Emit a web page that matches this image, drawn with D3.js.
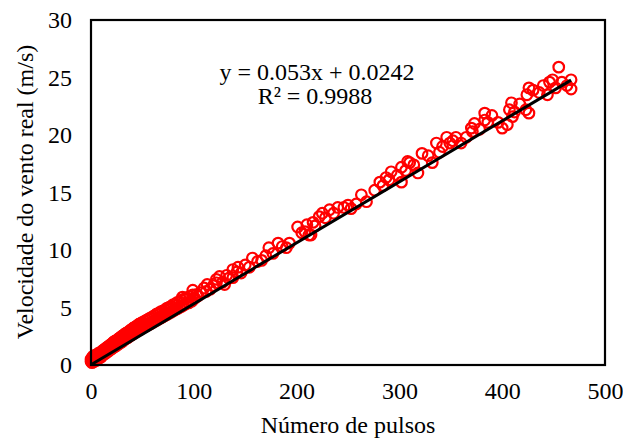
<!DOCTYPE html>
<html>
<head>
<meta charset="utf-8">
<script src="https://cdn.jsdelivr.net/npm/d3@7"></script>
<style>
  html, body { margin: 0; padding: 0; background: #fff; }
  svg { display: block; }
</style>
</head>
<body>
<svg id="chart" width="623" height="441"></svg>
<script>
// Measured wind speed (m/s) against anemometer pulse count, as [pulses, speed] pairs
const lowRange = [
  [0,0.30],[0,0.50],[1,0.20],[1,0.60],[2,0.40],[2,0.75],[3,0.30],[3,0.60],[4,0.50],[4,0.85],[5,0.40],[5,0.70],
  [6,0.60],[6,0.90],[7,0.70],[7,1.00],[8,0.60],[8,0.95],[9,0.80],[9,1.10],[10,0.70],[10,1.05],[11,0.90],[11,1.20],
  [12,0.90],[12,1.30],[13,1.00],[13,1.35],[14,1.00],[14,1.40],[15,1.10],[15,1.50],[16,1.20],[16,1.55],[17,1.20],[17,1.60],
  [18,1.30],[18,1.70],[19,1.40],[19,1.75],[20,1.40],[20,1.80],[21,1.50],[21,1.90],[22,1.55],[22,2.00],[23,1.60],[23,2.05],
  [24,1.70],[24,2.10],[25,1.70],[25,2.15],[26,1.80],[26,2.20],[27,1.85],[27,2.30],[28,1.90],[28,2.35],[29,2.00],[29,2.40],
  [30,2.00],[30,2.50],[31,2.10],[31,2.55],[32,2.20],[32,2.60],[33,2.25],[33,2.70],[34,2.30],[34,2.75],[35,2.35],[35,2.80],
  [36,2.40],[36,2.85],[37,2.50],[37,2.90],[38,2.55],[38,3.00],[39,2.60],[39,3.05],[40,2.65],[40,3.10],[41,2.70],[41,3.20],
  [42,2.80],[42,3.25],[43,2.85],[43,3.30],[44,2.90],[44,3.35],[45,2.95],[45,3.40],[46,3.00],[46,3.50],[47,3.05],[47,3.55],
  [48,3.10],[48,3.60],[49,3.20],[49,3.65],[50,3.25],[50,3.70],[52,3.30],[52,3.80],[54,3.40],[54,3.90],[56,3.50],[56,4.00],
  [58,3.60],[58,4.10],[60,3.70],[60,4.20],[62,3.80],[62,4.30],[64,3.90],[64,4.45],[66,4.00],[66,4.50],[68,4.10],[68,4.65],
  [70,4.20],[70,4.70],[72,4.30],[72,4.80],[74,4.40],[74,4.95],[76,4.50],[76,5.00],[78,4.60],[78,5.10],[80,4.70],[80,5.25],
  [82,4.80],[82,5.30],[84,4.90],[84,5.45],[86,5.00],[86,5.50],[88,5.10],[88,5.65],[89,5.90],[90,5.20],[91,5.75],[92,5.30],
  [93,5.85],[95,5.40],[96,5.95],[98,5.55],[99,6.50],[99,6.10]
];
const midRange = [
  [101,5.80],[103,6.15],[104,6.00],[107,6.30],[110,6.70],[112,6.40],[113,7.00],[116,6.60],[119,6.90],[122,7.45],[122,7.15],
  [125,7.70],[128,7.20],[130,7.00],[132,7.80],[134,7.55],[138,8.30],[138,7.60],[142,8.10],[143,8.50],[146,8.00],[150,8.70],
  [154,8.50],[157,9.30],[162,9.00],[166,9.10],[170,9.50],[173,10.20],[177,9.70],[182,10.60],[186,10.30],[190,10.20],[193,10.60]
];
const highRange = [
  [201,12.00],[205,11.50],[208,11.60],[210,12.20],[212,11.30],[214,11.30],[216,12.40],[218,12.10],[222,12.90],[225,13.20],
  [228,12.80],[232,13.50],[236,13.20],[240,13.70],[246,13.70],[250,13.90],[253,13.60],[258,14.00],[263,14.80],[268,14.20],
  [276,15.20],[281,15.90],[284,15.60],[287,16.30],[290,16.10],[292,16.80],[298,16.50],[302,17.20],[302,15.90],[306,16.90],
  [308,17.70],[310,17.60],[314,17.40],[318,16.70],[322,18.40],[328,18.20],[332,17.60],[336,19.30],[339,18.50],[342,19.00],
  [346,19.80],[349,19.30],[352,19.50],[355,19.80],[360,19.30],[365,19.80],[370,20.60],[371,20.30],[373,21.00],[378,20.50],
  [383,21.90],[383,21.30],[386,21.10],[390,21.70],[396,21.10],[400,20.60],[405,20.90],[407,22.20],[409,22.80],[410,21.60],
  [412,22.00],[417,22.70],[423,22.20],[424,23.50],[426,24.10],[426,21.90],[430,23.90],[436,23.70],[440,24.30],[444,23.50],
  [446,24.60],[449,24.80],[452,24.10],[455,25.90],[458,24.60],[463,24.30],[467,24.80],[467,24.00]
];
const points = lowRange.concat(midRange, highRange);

// Linear trendline reported on the chart
const slope = 0.053;
const intercept = 0.0242;
const equationLabel = "y = 0.053x + 0.0242";
const r2Label = "R² = 0.9988";

const xTicks = [0, 100, 200, 300, 400, 500];
const yTicks = [0, 5, 10, 15, 20, 25, 30];
const xTitle = "Número de pulsos";
const yTitle = "Velocidade do vento real (m/s)";

const FONT = "'Liberation Serif', 'Times New Roman', serif";
const svg = d3.select("#chart");
const plot = { left: 91, top: 20, right: 605, bottom: 365 };

const x = d3.scaleLinear().domain([0, 500]).range([plot.left, plot.right]);
const y = d3.scaleLinear().domain([0, 30]).range([plot.bottom, plot.top]);

// Tick labels only (no tick marks or axis line)
const xAxis = svg.append("g")
  .attr("transform", `translate(0,${plot.bottom})`)
  .call(d3.axisBottom(x).tickValues(xTicks).tickSize(0).tickPadding(17).tickFormat(d3.format("d")));
xAxis.select(".domain").remove();
xAxis.attr("font-family", FONT).attr("font-size", 24);
xAxis.selectAll("text").attr("fill", "#000");

const yAxis = svg.append("g")
  .attr("transform", `translate(${plot.left},0)`)
  .call(d3.axisLeft(y).tickValues(yTicks).tickSize(0).tickPadding(19).tickFormat(d3.format("d")));
yAxis.select(".domain").remove();
yAxis.attr("font-family", FONT).attr("font-size", 24);
yAxis.selectAll("text").attr("fill", "#000");

// Scatter points (hollow red circles)
svg.append("g")
  .selectAll("circle")
  .data(points)
  .join("circle")
  .attr("cx", d => x(d[0]))
  .attr("cy", d => y(d[1]))
  .attr("r", 5.3)
  .attr("fill", "none")
  .attr("stroke", "#ff0000")
  .attr("stroke-width", 2.2);

// Trendline across the data range
const xMin = d3.min(points, d => d[0]), xMax = d3.max(points, d => d[0]);
svg.append("line")
  .attr("x1", x(xMin)).attr("y1", y(slope * xMin + intercept))
  .attr("x2", x(xMax)).attr("y2", y(slope * xMax + intercept))
  .attr("stroke", "#000")
  .attr("stroke-width", 3);

// Plot area border
svg.append("rect")
  .attr("x", plot.left).attr("y", plot.top)
  .attr("width", plot.right - plot.left).attr("height", plot.bottom - plot.top)
  .attr("fill", "none").attr("stroke", "#000").attr("stroke-width", 2.2);

// Trendline equation
const eq = svg.append("g")
  .attr("text-anchor", "middle").attr("font-family", FONT).attr("font-size", 24);
eq.append("text").attr("x", 317).attr("y", 80).text(equationLabel);
eq.append("text").attr("x", 315).attr("y", 104).text(r2Label);

// Axis titles
svg.append("text")
  .attr("x", (plot.left + plot.right) / 2).attr("y", 433)
  .attr("text-anchor", "middle").attr("font-family", FONT).attr("font-size", 24)
  .text(xTitle);
svg.append("text")
  .attr("transform", `translate(33,192) rotate(-90)`)
  .attr("text-anchor", "middle").attr("font-family", FONT).attr("font-size", 24)
  .text(yTitle);
</script>
</body>
</html>
